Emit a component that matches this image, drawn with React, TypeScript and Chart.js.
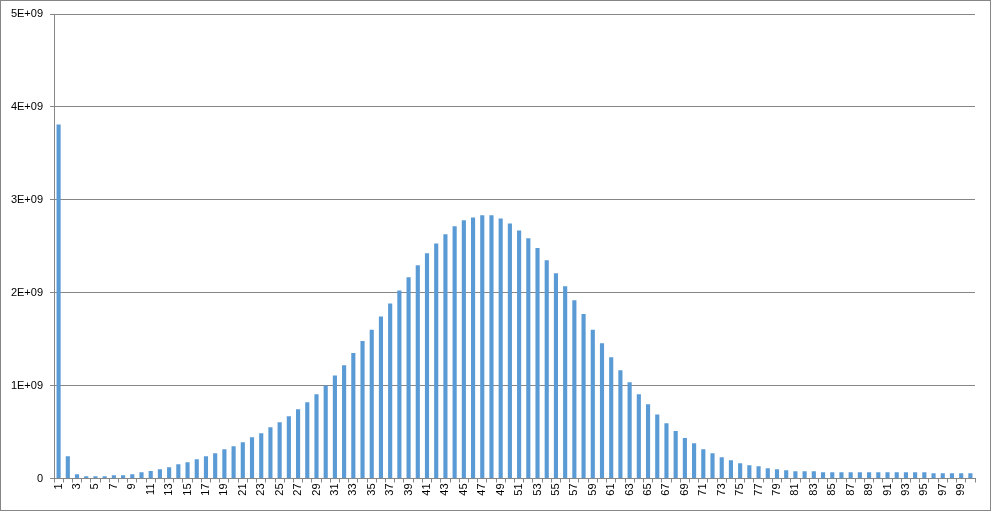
import React, { useEffect, useRef } from "react";
import { Chart, registerables } from "chart.js";

Chart.register(...registerables);

const categories: string[] = Array.from({ length: 100 }, (_, i) => String(i + 1));

// values in units of 1e9
const valuesE9: number[] = [
  3.81, 0.24, 0.046, 0.025, 0.025, 0.025, 0.035, 0.035, 0.046, 0.068,
  0.08, 0.1, 0.12, 0.154, 0.175, 0.207, 0.24, 0.272, 0.315, 0.347,
  0.39, 0.444, 0.487, 0.552, 0.606, 0.67, 0.745, 0.82, 0.906, 1.0,
  1.11, 1.22, 1.35, 1.48, 1.6, 1.745, 1.885, 2.025, 2.165, 2.295,
  2.424, 2.53, 2.63, 2.715, 2.78, 2.81, 2.835, 2.835, 2.8, 2.745,
  2.67, 2.585, 2.48, 2.35, 2.21, 2.07, 1.92, 1.77, 1.6, 1.455,
  1.305, 1.165, 1.035, 0.906, 0.8, 0.69, 0.595, 0.51, 0.435, 0.38,
  0.315, 0.272, 0.23, 0.197, 0.165, 0.143, 0.132, 0.11, 0.1, 0.09,
  0.078, 0.078, 0.078, 0.068, 0.068, 0.068, 0.068, 0.068, 0.068, 0.068,
  0.068, 0.068, 0.068, 0.068, 0.068, 0.057, 0.057, 0.057, 0.057, 0.057,
];

const values: number[] = valuesE9.map((v) => v * 1e9);

const yTickLabels: string[] = ["0", "1E+09", "2E+09", "3E+09", "4E+09", "5E+09"];

const borderPlugin = {
  id: "outerBorder",
  afterDraw(chart: any) {
    const ctx = chart.ctx;
    ctx.save();
    ctx.strokeStyle = "#868686";
    ctx.lineWidth = 1;
    ctx.strokeRect(0.5, 0.5, chart.width - 1, chart.height - 1);
    ctx.restore();
  },
};

export default function App() {
  const ref = useRef<HTMLCanvasElement | null>(null);
  useEffect(() => {
    document.body.style.margin = "0";
    const canvas = ref.current;
    if (!canvas) return;
    const chart = new Chart(canvas, {
      type: "bar",
      data: {
        labels: categories,
        datasets: [
          {
            data: values,
            backgroundColor: "#5B9BD5",
            borderWidth: 0,
            categoryPercentage: 1,
            barPercentage: 0.45,
          },
        ],
      },
      options: {
        animation: false,
        responsive: false,
        maintainAspectRatio: false,
        layout: { padding: { left: 0, top: 14, right: 16, bottom: 0 } },
        plugins: {
          legend: { display: false },
          tooltip: { enabled: false },
        },
        scales: {
          x: {
            offset: true,
            grid: {
              offset: true,
              drawOnChartArea: false,
              drawTicks: true,
              tickLength: 4,
              color: "#868686",
            },
            border: { color: "#868686" },
            ticks: {
              autoSkip: false,
              maxRotation: 90,
              minRotation: 90,
              padding: 1,
              color: "#000",
              font: { family: "Liberation Sans", size: 11 },
              callback: (_v: any, i: number) => (i % 2 === 0 ? categories[i] : ""),
            },
            afterFit: (s: any) => {
              s.height = 32.5;
            },
          },
          y: {
            min: 0,
            max: 5e9,
            grid: {
              color: "#868686",
              tickLength: 4,
            },
            border: { color: "#868686" },
            ticks: {
              stepSize: 1e9,
              padding: 7,
              color: "#000",
              font: { family: "Liberation Sans", size: 11 },
              callback: (v: any) => yTickLabels[Math.round(Number(v) / 1e9)] ?? "",
            },
            afterFit: (s: any) => {
              s.width = 54;
            },
          },
        },
      },
      plugins: [borderPlugin],
    });
    return () => chart.destroy();
  }, []);
  return (
    <div style={{ width: 991, height: 511 }}>
      <canvas ref={ref} width={991} height={511} style={{ display: "block" }} />
    </div>
  );
}
